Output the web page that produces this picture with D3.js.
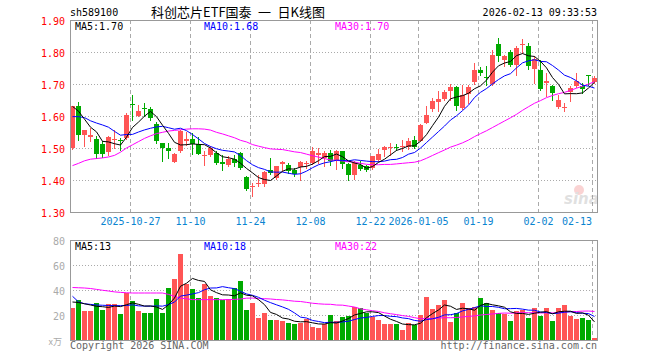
<!DOCTYPE html>
<meta charset='utf-8'>
<style>
body {
    margin: 0;
    background: #fff;
}

svg {
    display: block;
}

text {
    font-family: 'DejaVu Sans Mono', monospace;
    font-size: 10px;
}

.grid-h {
    stroke: #aaa;
    stroke-dasharray: 1, 2;
    shape-rendering: crispEdges;
}

.grid-v {
    stroke: #aaa;
    stroke-dasharray: 4, 3;
    shape-rendering: crispEdges;
}

.frame {
    fill: none;
    stroke: #999;
    shape-rendering: crispEdges;
}

.ma {
    fill: none;
    stroke-width: 1;
}
</style>

<body>
    <div class='chart'></div>
    <script src='https://d3js.org/d3.v7.min.js'></script>
    <script>
    var dates = [
        '2025-10-13', '2025-10-14', '2025-10-15', '2025-10-16', '2025-10-17',
        '2025-10-20', '2025-10-21', '2025-10-22', '2025-10-23', '2025-10-24',
        '2025-10-27', '2025-10-28', '2025-10-29', '2025-10-30', '2025-10-31',
        '2025-11-03', '2025-11-04', '2025-11-05', '2025-11-06', '2025-11-07',
        '2025-11-10', '2025-11-11', '2025-11-12', '2025-11-13', '2025-11-14',
        '2025-11-17', '2025-11-18', '2025-11-19', '2025-11-20', '2025-11-21',
        '2025-11-24', '2025-11-25', '2025-11-26', '2025-11-27', '2025-11-28',
        '2025-12-01', '2025-12-02', '2025-12-03', '2025-12-04', '2025-12-05',
        '2025-12-08', '2025-12-09', '2025-12-10', '2025-12-11', '2025-12-12',
        '2025-12-15', '2025-12-16', '2025-12-17', '2025-12-18', '2025-12-19',
        '2025-12-22', '2025-12-23', '2025-12-24', '2025-12-25', '2025-12-26',
        '2025-12-29', '2025-12-30', '2025-12-31',
        '2026-01-05', '2026-01-06', '2026-01-07', '2026-01-08', '2026-01-09',
        '2026-01-12', '2026-01-13', '2026-01-14', '2026-01-15', '2026-01-16',
        '2026-01-19', '2026-01-20', '2026-01-21', '2026-01-22', '2026-01-23',
        '2026-01-26', '2026-01-27', '2026-01-28', '2026-01-29', '2026-01-30',
        '2026-02-02', '2026-02-03', '2026-02-04', '2026-02-05', '2026-02-06',
        '2026-02-09', '2026-02-10', '2026-02-11', '2026-02-12', '2026-02-13'
    ];

    var opens = [
        1.500, 1.632, 1.540, 1.535, 1.529, 1.514, 1.486, 1.526, 1.524, 1.531,
        1.637, 1.601, 1.625, 1.623, 1.575, 1.516, 1.500, 1.458, 1.491, 1.522,
        1.529, 1.512, 1.476, 1.477, 1.484, 1.457, 1.448, 1.466, 1.484, 1.408,
        1.378, 1.388, 1.385, 1.430, 1.406, 1.448, 1.448, 1.432, 1.440, 1.450,
        1.453, 1.478, 1.469, 1.484, 1.458, 1.490, 1.451, 1.414, 1.448, 1.443,
        1.438, 1.462, 1.493, 1.498, 1.503, 1.503, 1.503, 1.526, 1.523, 1.580,
        1.620, 1.646, 1.651, 1.677, 1.691, 1.627, 1.670, 1.708, 1.745, 1.723,
        1.701, 1.826, 1.776, 1.800, 1.760, 1.823, 1.818, 1.747, 1.743, 1.705,
        1.695, 1.627, 1.627, 1.677, 1.693, 1.695, 1.727, 1.705
    ];
    var closes = [
        1.630, 1.542, 1.557, 1.542, 1.481, 1.482, 1.533, 1.529, 1.521, 1.604,
        1.634, 1.617, 1.622, 1.594, 1.523, 1.500, 1.490, 1.482, 1.552, 1.528,
        1.512, 1.482, 1.478, 1.500, 1.453, 1.451, 1.466, 1.455, 1.437, 1.372,
        1.382, 1.392, 1.424, 1.422, 1.443, 1.455, 1.430, 1.420, 1.455, 1.453,
        1.490, 1.484, 1.484, 1.458, 1.490, 1.448, 1.417, 1.453, 1.434, 1.432,
        1.474, 1.482, 1.503, 1.502, 1.501, 1.505, 1.521, 1.505, 1.573, 1.604,
        1.646, 1.654, 1.674, 1.691, 1.632, 1.667, 1.691, 1.745, 1.736, 1.721,
        1.792, 1.790, 1.789, 1.760, 1.812, 1.825, 1.755, 1.778, 1.684, 1.710,
        1.674, 1.649, 1.629, 1.688, 1.708, 1.687, 1.725, 1.719
    ];
    var highs = [
        1.632, 1.644, 1.557, 1.562, 1.536, 1.521, 1.536, 1.557, 1.531, 1.609,
        1.667, 1.635, 1.641, 1.627, 1.580, 1.516, 1.516, 1.484, 1.555, 1.550,
        1.547, 1.534, 1.490, 1.505, 1.490, 1.479, 1.474, 1.479, 1.486, 1.411,
        1.390, 1.416, 1.427, 1.469, 1.445, 1.459, 1.453, 1.438, 1.459, 1.459,
        1.502, 1.500, 1.490, 1.495, 1.495, 1.490, 1.453, 1.458, 1.458, 1.448,
        1.476, 1.497, 1.505, 1.516, 1.514, 1.526, 1.531, 1.539, 1.576, 1.630,
        1.656, 1.677, 1.682, 1.701, 1.693, 1.698, 1.698, 1.766, 1.753, 1.757,
        1.805, 1.844, 1.792, 1.807, 1.818, 1.841, 1.828, 1.786, 1.776, 1.734,
        1.698, 1.667, 1.641, 1.693, 1.734, 1.703, 1.729, 1.724
    ];
    var lows = [
        1.498, 1.524, 1.505, 1.521, 1.469, 1.472, 1.479, 1.500, 1.493, 1.528,
        1.589, 1.599, 1.599, 1.589, 1.516, 1.458, 1.469, 1.455, 1.489, 1.510,
        1.481, 1.480, 1.448, 1.476, 1.451, 1.432, 1.445, 1.443, 1.434, 1.370,
        1.349, 1.382, 1.382, 1.420, 1.403, 1.427, 1.422, 1.411, 1.399, 1.437,
        1.451, 1.453, 1.445, 1.448, 1.435, 1.437, 1.401, 1.404, 1.430, 1.427,
        1.434, 1.459, 1.476, 1.479, 1.493, 1.490, 1.497, 1.500, 1.521, 1.578,
        1.617, 1.615, 1.649, 1.651, 1.618, 1.623, 1.641, 1.701, 1.729, 1.698,
        1.698, 1.771, 1.755, 1.755, 1.729, 1.797, 1.747, 1.703, 1.680, 1.661,
        1.649, 1.625, 1.615, 1.646, 1.691, 1.672, 1.698, 1.703
    ];
    // volume, unit: 10k shares
    var volumes = [
        25.9, 32.0, 23.5, 23.5, 29.9, 24.3, 29.1, 29.1, 21.1, 37.6,
        31.5, 23.5, 21.9, 21.9, 33.1, 21.9, 41.9, 49.1, 69.1, 45.1,
        41.1, 33.9, 45.1, 35.5, 33.9, 32.3, 33.1, 41.9, 47.5, 24.3,
        29.9, 17.9, 21.9, 16.3, 16.3, 15.5, 13.9, 13.1, 13.9, 17.1,
        10.7, 9.5, 12.5, 19.7, 15.5, 18.7, 19.5, 26.7, 25.9, 21.9,
        18.7, 16.3, 13.1, 13.1, 13.1, 8.3, 13.9, 12.3, 19.7, 34.7,
        25.1, 28.3, 32.3, 14.7, 21.9, 29.9, 25.9, 26.7, 33.9, 29.9,
        24.3, 21.9, 21.1, 15.5, 23.5, 24.3, 17.9, 25.9, 19.5, 25.9,
        15.5, 25.9, 28.3, 19.5, 17.1, 17.9, 16.3, 1.6
    ];

    var priceMa5Lead = [1.630, 1.615, 1.590, 1.565];
    var priceMa10Lead = [1.598, 1.598, 1.595, 1.585, 1.578, 1.572, 1.565, 1.552, 1.540];
    var priceMa30Lead = [
        1.445, 1.452, 1.460, 1.465, 1.467, 1.469, 1.472, 1.477, 1.487, 1.500,
        1.510, 1.520, 1.530, 1.538, 1.545, 1.549, 1.553, 1.555, 1.557, 1.559,
        1.560, 1.560, 1.559, 1.556, 1.549, 1.544, 1.538, 1.532, 1.524
    ];
    var volMa5Lead = [30.4, 30.0, 29.0, 28.0];
    var volMa10Lead = [35.0, 30.5, 29.0, 28.5, 28.0, 27.8, 27.6, 27.5, 27.5];
    var volMa30Lead = [
        42.0, 41.8, 41.6, 41.2, 40.5, 39.8, 39.2, 38.5, 38.1, 37.8,
        37.6, 37.6, 37.6, 37.6, 37.6, 37.6, 36.5, 34.9, 33.5, 33.0,
        32.3, 32.3, 32.3, 32.3, 32.3, 32.3, 32.3, 32.5, 32.8
    ];

    var priceTicks = [1.90, 1.80, 1.70, 1.60, 1.50, 1.40, 1.30];
    var volTicks = [80, 60, 40, 20];
    var tickDates = ['2025-10-27', '2025-11-10', '2025-11-24', '2025-12-08', '2025-12-22',
        '2026-01-05', '2026-01-19', '2026-02-02', '2026-02-13'];
    var tickLabels = ['2025-10-27', '11-10', '11-24', '12-08', '12-22',
        '2026-01-05', '01-19', '02-02', '02-13'];

    var priceMaLabels = ['MA5:1.70', 'MA10:1.68', 'MA30:1.70'];
    var volMaLabels = ['MA5:13', 'MA10:18', 'MA30:22'];
    var maColors = ['#000', '#00f', '#f0f'];

    var upColor = '#ff5555',
        downColor = '#00aa00';

    function movingAvg(vals, n, lead) {
        return vals.map(function(v, i) {
            if (i < n - 1) return lead[i];
            return d3.mean(vals.slice(i - n + 1, i + 1));
        });
    }

    function drawChart() {
        var width = 660, height = 360;
        var left = 70, right = 598;

        var svg = d3.select('.chart').append('svg')
            .attr('width', width)
            .attr('height', height);

        var x = d3.scaleLinear()
            .domain([0, dates.length])
            .range([left, right]);
        var yPrice = d3.scaleLinear()
            .domain([1.30, 1.90])
            .range([212, 20]);
        var yVol = d3.scaleLinear()
            .domain([0, 80])
            .range([340, 240]);

        var idx = d3.range(dates.length);
        function cx(i) { return x(i) + 2.5; }
        function isUp(i) { return closes[i] >= opens[i]; }

        // header
        svg.append('text')
            .attr('x', 70).attr('y', 16)
            .attr('fill', '#000')
            .text('sh589100');
        svg.append('text')
            .attr('x', 238).attr('y', 17)
            .attr('text-anchor', 'middle')
            .style('font-family', "'Noto Sans CJK SC', sans-serif")
            .style('font-size', '13px')
            .attr('fill', '#000')
            .text('科创芯片ETF国泰\u2002一\u2002日K线图');
        svg.append('text')
            .attr('x', 597).attr('y', 16)
            .attr('text-anchor', 'end')
            .attr('fill', '#000')
            .text('2026-02-13 09:33:53');

        // panels: grids and frames
        var tickIdx = tickDates.map(function(d) { return dates.indexOf(d); });

        function panel(y, ticks, top, bottom) {
            var g = svg.append('g');
            g.selectAll('.grid-h')
                .data(ticks.filter(function(t) {
                    return Math.round(y(t)) > top && Math.round(y(t)) < bottom;
                }))
                .enter().append('line')
                .attr('class', 'grid-h')
                .attr('x1', left).attr('x2', right)
                .attr('y1', function(d) { return Math.round(y(d)) + 0.5; })
                .attr('y2', function(d) { return Math.round(y(d)) + 0.5; });
            g.selectAll('.grid-v')
                .data(tickIdx)
                .enter().append('line')
                .attr('class', 'grid-v')
                .attr('x1', function(d) { return x(d) + 0.5; })
                .attr('x2', function(d) { return x(d) + 0.5; })
                .attr('y1', top).attr('y2', bottom);
            return g;
        }

        panel(yPrice, priceTicks, 20, 212);
        panel(yVol, volTicks, 240, 340);

        // price axis labels
        svg.selectAll('.price-label')
            .data(priceTicks)
            .enter().append('text')
            .attr('class', 'price-label')
            .attr('x', 65)
            .attr('y', function(d) { return yPrice(d) + 5; })
            .attr('text-anchor', 'end')
            .attr('fill', '#f00')
            .text(function(d) { return d.toFixed(2); });

        // date labels
        svg.selectAll('.date-label')
            .data(tickIdx)
            .enter().append('text')
            .attr('class', 'date-label')
            .attr('x', function(d, i) { return i === tickIdx.length - 1 ? x(d) : x(d) + 0.5; })
            .attr('y', 225)
            .attr('text-anchor', function(d, i) { return i === tickIdx.length - 1 ? 'end' : 'middle'; })
            .attr('fill', '#0a84d0')
            .text(function(d, i) { return tickLabels[i]; });

        // volume labels
        svg.selectAll('.vol-label')
            .data(volTicks)
            .enter().append('text')
            .attr('class', 'vol-label')
            .attr('x', 65)
            .attr('y', function(d) { return yVol(d) + 5; })
            .attr('text-anchor', 'end')
            .attr('fill', '#aaa')
            .text(function(d) { return d; });
        svg.append('text')
            .attr('x', 62).attr('y', 345)
            .attr('text-anchor', 'end')
            .attr('fill', '#aaa')
            .style('font-family', "'Noto Sans CJK SC', sans-serif")
            .style('font-size', '9px')
            .text('x万');

        // sina watermark
        var wm = svg.append('g').attr('opacity', 0.25);
        wm.append('circle')
            .attr('cx', 579).attr('cy', 190).attr('r', 5)
            .attr('fill', '#e55');
        wm.append('text')
            .attr('x', 564).attr('y', 204)
            .style('font-family', 'DejaVu Sans, sans-serif')
            .style('font-size', '15px')
            .style('font-weight', 'bold')
            .style('font-style', 'italic')
            .attr('fill', '#888')
            .text('sina');

        // candles
        var candles = svg.append('g');
        candles.selectAll('.wick')
            .data(idx)
            .enter().append('line')
            .attr('class', 'wick')
            .attr('x1', cx).attr('x2', cx)
            .attr('y1', function(i) { return Math.round(yPrice(highs[i])); })
            .attr('y2', function(i) { return Math.round(yPrice(lows[i])) + 1; })
            .attr('stroke', function(i) { return isUp(i) ? upColor : downColor; })
            .attr('shape-rendering', 'crispEdges');
        candles.selectAll('.body')
            .data(idx)
            .enter().append('rect')
            .attr('class', 'body')
            .attr('x', function(i) { return x(i); })
            .attr('width', 5)
            .attr('y', function(i) { return Math.round(yPrice(Math.max(opens[i], closes[i]))); })
            .attr('height', function(i) {
                return Math.max(1, Math.round(Math.abs(yPrice(opens[i]) - yPrice(closes[i]))));
            })
            .attr('fill', function(i) { return isUp(i) ? upColor : downColor; })
            .attr('shape-rendering', 'crispEdges');

        // volume bars
        svg.append('g').selectAll('rect')
            .data(idx)
            .enter().append('rect')
            .attr('x', function(i) { return x(i); })
            .attr('width', 5)
            .attr('y', function(i) { return Math.round(yVol(volumes[i])); })
            .attr('height', function(i) { return 340 - Math.round(yVol(volumes[i])); })
            .attr('fill', function(i) { return isUp(i) ? upColor : downColor; })
            .attr('shape-rendering', 'crispEdges');

        // moving average lines
        var priceMas = [
            movingAvg(closes, 5, priceMa5Lead),
            movingAvg(closes, 10, priceMa10Lead),
            movingAvg(closes, 30, priceMa30Lead)
        ];
        var volMas = [
            movingAvg(volumes, 5, volMa5Lead),
            movingAvg(volumes, 10, volMa10Lead),
            movingAvg(volumes, 30, volMa30Lead)
        ];

        var priceLine = d3.line()
            .x(function(d, i) { return cx(i); })
            .y(function(d) { return yPrice(d); });
        var volLine = d3.line()
            .x(function(d, i) { return cx(i); })
            .y(function(d) { return yVol(d); });

        [2, 1, 0].forEach(function(m) {
            svg.append('path')
                .attr('class', 'ma')
                .attr('d', priceLine(priceMas[m]))
                .attr('stroke', maColors[m]);
            svg.append('path')
                .attr('class', 'ma')
                .attr('d', volLine(volMas[m]))
                .attr('stroke', maColors[m]);
        });

        // frames
        svg.append('rect')
            .attr('class', 'frame')
            .attr('x', left + 0.5).attr('y', 20.5)
            .attr('width', right - left - 1).attr('height', 192);
        svg.append('rect')
            .attr('class', 'frame')
            .attr('x', left + 0.5).attr('y', 240.5)
            .attr('width', right - left - 1).attr('height', 100);

        // MA legends
        var legX = [75, 204, 335];
        svg.selectAll('.price-ma-label')
            .data(priceMaLabels)
            .enter().append('text')
            .attr('x', function(d, i) { return legX[i]; })
            .attr('y', 30)
            .attr('fill', function(d, i) { return maColors[i]; })
            .text(function(d) { return d; });
        svg.selectAll('.vol-ma-label')
            .data(volMaLabels)
            .enter().append('text')
            .attr('x', function(d, i) { return legX[i]; })
            .attr('y', 250)
            .attr('fill', function(d, i) { return maColors[i]; })
            .text(function(d) { return d; });

        // footer
        svg.append('text')
            .attr('x', 70).attr('y', 349)
            .attr('fill', '#666')
            .text('Copyright 2026 SINA.COM');
        svg.append('text')
            .attr('x', 597).attr('y', 349)
            .attr('text-anchor', 'end')
            .attr('fill', '#666')
            .text('http://finance.sina.com.cn');
    }

    drawChart();
    </script>
</body>
